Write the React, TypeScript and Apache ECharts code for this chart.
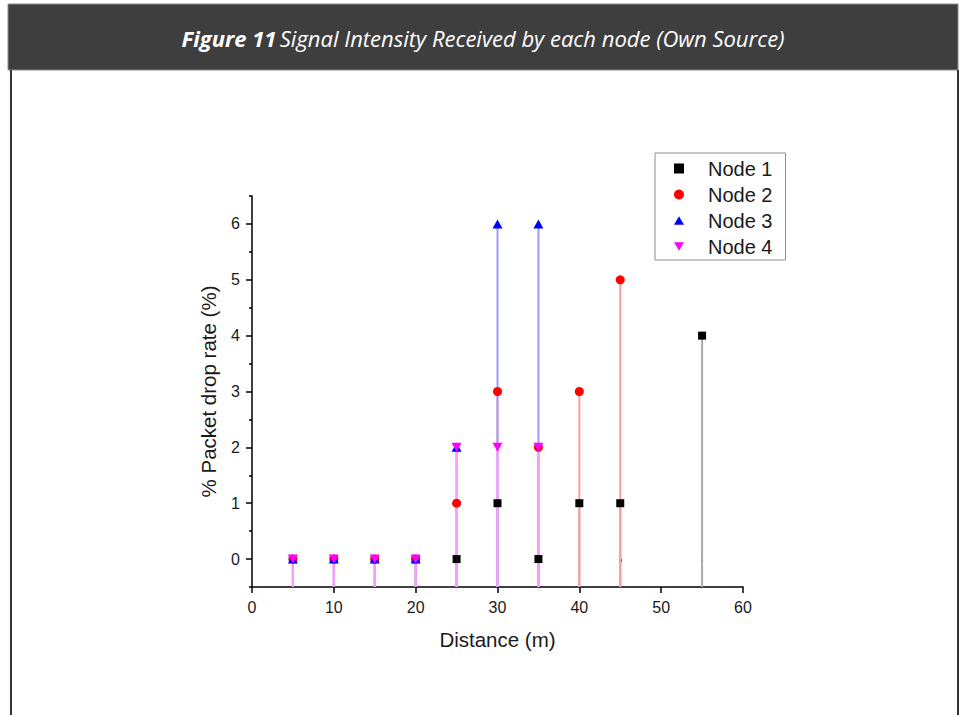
import React, { useEffect, useRef } from 'react';
import * as echarts from 'echarts';

const distances = [5, 10, 15, 20, 25, 30, 35, 40, 45, 50, 55];
const node1 = [0, 0, 0, 0, 0, 1, 0, 1, 1, null, 4];
const node2 = [0, 0, 0, 0, 1, 3, 2, 3, 5, null, null];
const node3 = [0, 0, 0, 0, 2, 6, 6, null, null, null, null];
const node4 = [0, 0, 0, 0, 2, 2, 2, null, null, null, null];
const seriesNames = ['Node 1', 'Node 2', 'Node 3', 'Node 4'];
const seriesValues = [node1, node2, node3, node4];
const xMinorTicks = [5, 15, 25, 35, 45, 55];
const yMajorTicks = [0, 1, 2, 3, 4, 5, 6];
const yMinorTicks = [-0.5, 0.5, 1.5, 2.5, 3.5, 4.5, 5.5, 6.5];
const titleBold = 'Figure 11';
const titleRest = 'Signal Intensity Received by each node (Own Source)';

const markerColors = ['#000000', '#ff0000', '#0000ff', '#ff00ff'];
const stemColors = ['#ababab', '#ff9c9c', '#9c9cff', '#ff9cff'];
const symbols = [
  'path://M0,0H10V10H0Z',
  'circle',
  'path://M5,0L10,8.66L0,8.66Z',
  'path://M0,0L10,0L5,8.66Z',
];
const symbolSizes: any[] = [8, 9, [10, 9], [10, 9]];

const Y_MIN = -0.5;
const Y_MAX = 6.5;

function pairs(vals: (number | null)[]) {
  const out: number[][] = [];
  vals.forEach((v, i) => {
    if (v !== null) out.push([distances[i], v]);
  });
  return out;
}

export default function App() {
  const ref = useRef<HTMLDivElement>(null);
  useEffect(() => {
    if (!ref.current) return;
    const chart = echarts.init(ref.current, null, { renderer: 'svg' });
    const font = 'Arial, "Liberation Sans", sans-serif';
    const stemSeries = seriesValues.map((vals, i) => ({
      type: 'custom',
      name: 'stem' + i,
      xAxisIndex: 0,
      yAxisIndex: 0,
      silent: true,
      z: 1,
      data: pairs(vals),
      renderItem: (params: any, api: any) => {
        const p = api.coord([api.value(0), api.value(1)]);
        const b = api.coord([api.value(0), Y_MIN]);
        return {
          type: 'line',
          shape: { x1: p[0], y1: p[1], x2: b[0], y2: b[1] },
          style: { stroke: stemColors[i], lineWidth: 2 },
        };
      },
    }));
    const markerSeries = seriesValues.map((vals, i) => ({
      type: 'scatter',
      name: seriesNames[i],
      xAxisIndex: 0,
      yAxisIndex: 0,
      z: 3,
      symbol: symbols[i],
      symbolSize: symbolSizes[i],
      itemStyle: { color: markerColors[i], opacity: 1 },
      data: pairs(vals),
    }));
    chart.setOption({
      animation: false,
      backgroundColor: '#ffffff',
      graphic: [
        { type: 'rect', shape: { x: 8, y: 4, width: 950, height: 66 }, style: { fill: '#3e3e3e', stroke: '#8a8a8a', lineWidth: 1 }, z: 0 },
        { type: 'line', shape: { x1: 11, y1: 70, x2: 11, y2: 715 }, style: { stroke: '#333333', lineWidth: 2 } },
        { type: 'line', shape: { x1: 958, y1: 70, x2: 958, y2: 715 }, style: { stroke: '#333333', lineWidth: 2 } },
        {
          type: 'text',
          x: 483,
          y: 38,
          style: {
            text: '{b|' + titleBold + '} {n|' + titleRest + '}',
            align: 'center',
            verticalAlign: 'middle',
            rich: {
              b: { fontFamily: '"Open Sans"', fontStyle: 'italic', fontWeight: 'bold', fontSize: 22, fill: '#ffffff' },
              n: { fontFamily: '"Open Sans"', fontStyle: 'italic', fontSize: 22, fill: '#ffffff' },
            },
          },
        },
      ],
      legend: {
        orient: 'vertical',
        left: 655,
        top: 153,
        data: seriesNames,
        itemWidth: 10,
        itemHeight: 10,
        itemGap: 5,
        padding: [5, 13, 3, 19],
        borderColor: '#8c8c8c',
        borderWidth: 1,
        backgroundColor: '#ffffff',
        textStyle: { fontFamily: font, fontSize: 20, color: '#1a1a1a', lineHeight: 21, padding: [0, 0, 0, 19] },
      },
      grid: { left: 252, top: 196, width: 491, height: 391, containLabel: false },
      xAxis: [
        {
          type: 'value',
          min: 0,
          max: 60,
          interval: 10,
          name: 'Distance (m)',
          nameLocation: 'middle',
          nameGap: 42,
          nameTextStyle: { fontFamily: font, fontSize: 20.5, color: '#1a1a1a' },
          splitLine: { show: false },
          axisLine: { show: true, onZero: false, lineStyle: { color: '#000000', width: 1.5 } },
          axisTick: { show: true, inside: false, length: 6, lineStyle: { color: '#000000', width: 1.5 } },
          axisLabel: { fontFamily: font, fontSize: 16, color: '#1a1a1a', margin: 12 },
        },
        {
          type: 'value',
          min: 0,
          max: 60,
          position: 'bottom',
          splitLine: { show: false },
          axisLine: { show: false },
          axisTick: { show: true, inside: false, length: 3, customValues: xMinorTicks, lineStyle: { color: '#000000', width: 1.5 } },
          axisLabel: { show: false },
        },
      ],
      yAxis: [
        {
          type: 'value',
          min: Y_MIN,
          max: Y_MAX,
          name: '% Packet drop rate (%)',
          nameLocation: 'middle',
          nameGap: 33,
          nameTextStyle: { fontFamily: font, fontSize: 20.5, color: '#1a1a1a' },
          splitLine: { show: false },
          axisLine: { show: true, onZero: false, lineStyle: { color: '#000000', width: 1.5 } },
          axisTick: { show: true, inside: false, length: 6, customValues: yMajorTicks, lineStyle: { color: '#000000', width: 1.5 } },
          axisLabel: { fontFamily: font, fontSize: 16, color: '#1a1a1a', margin: 12, customValues: yMajorTicks },
        },
        {
          type: 'value',
          min: Y_MIN,
          max: Y_MAX,
          position: 'left',
          splitLine: { show: false },
          axisLine: { show: false },
          axisTick: { show: true, inside: false, length: 3, customValues: yMinorTicks, lineStyle: { color: '#000000', width: 1.5 } },
          axisLabel: { show: false },
        },
      ],
      series: [...stemSeries, ...markerSeries],
    });
    return () => chart.dispose();
  }, []);
  return <div ref={ref} style={{ position: 'absolute', left: 0, top: 0, width: 965, height: 715 }} />;
}
